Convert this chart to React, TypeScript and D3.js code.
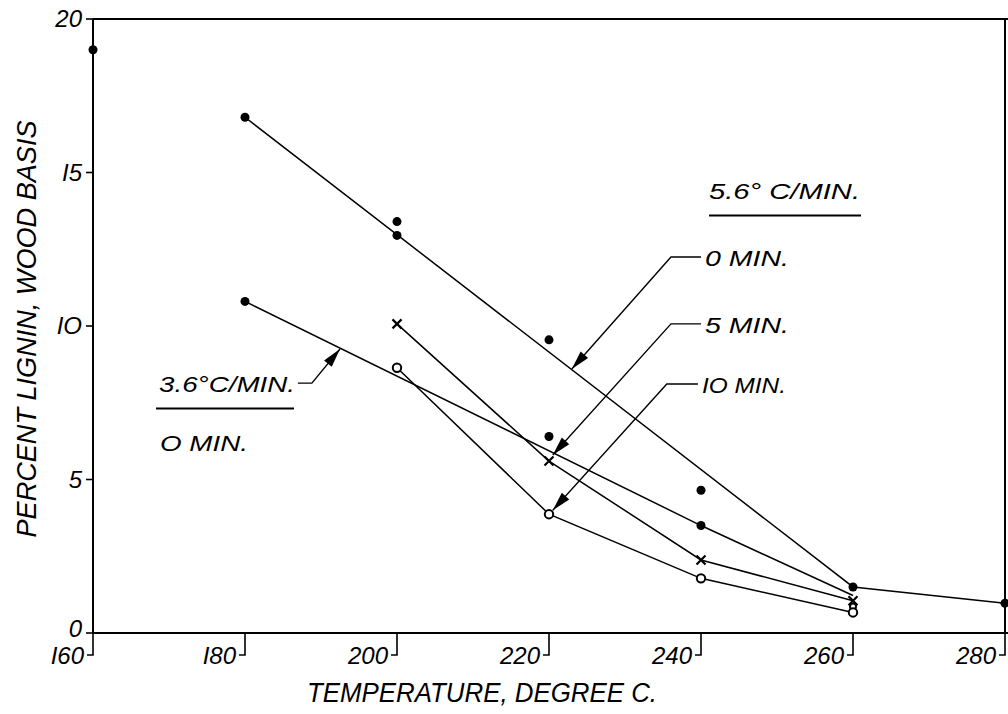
import * as d3 from 'd3';

// axis ticks
const xTicks = [160, 180, 200, 220, 240, 260, 280];
const yTicks = [0, 5, 10, 15, 20];

// filled dots, 0 min hold (both heating rates)
const dotTemps = [160, 180, 180, 200, 200, 220, 220, 240, 240, 260, 280];
const dotValues = [19.0, 16.8, 10.8, 13.4, 12.95, 9.55, 6.4, 4.65, 3.5, 1.5, 0.97];

// crosses, 5.6 C/min, 5 min hold
const crossTemps = [200, 220, 240, 260];
const crossValues = [10.07, 5.6, 2.38, 1.05];

// open circles, 5.6 C/min, 10 min hold
const ringTemps = [200, 220, 240, 260, 260];
const ringValues = [8.64, 3.87, 1.78, 0.86, 0.67];

// drawn lines
const fit56Temps = [180, 260, 280];
const fit56Values = [16.8, 1.5, 0.97];
const fit36Temps = [180, 240, 260];
const fit36Values = [10.8, 3.5, 1.22];
const min5Temps = [200, 220, 240, 260];
const min5Values = [10.07, 5.6, 2.38, 1.05];
const min10Temps = [200, 220, 240, 260];
const min10Values = [8.64, 3.87, 1.78, 0.67];

// leader labels: text, tip (temp, value), elbow (temp, value), shelf end temp
const leaderLabels = ['0 MIN.', '5 MIN.', 'IO MIN.'];
const leaderTips = [[223.0, 8.6], [220.5, 5.8], [220.5, 4.0]];
const leaderElbows = [[236.05, 12.25], [236.05, 10.07], [235.5, 8.11]];
const leaderShelf = [240.0, 240.0, 239.6];

const W = 1008;
const H = 714;
const FONT = '"Liberation Sans", Arial, sans-serif';

export default function App() {
  const x = d3.scaleLinear().domain([160, 280]).range([93, 1005]);
  const y = d3.scaleLinear().domain([0, 20]).range([633, 19]);

  const line = d3.line<[number, number]>()
    .x(d => x(d[0]))
    .y(d => y(d[1]));

  const zip = (ts: number[], vs: number[]) => ts.map((t, i) => [t, vs[i]] as [number, number]);

  const lines = [
    zip(fit56Temps, fit56Values),
    zip(fit36Temps, fit36Values),
    zip(min5Temps, min5Values),
    zip(min10Temps, min10Values),
  ];

  const arrowHead = (x0: number, y0: number, x1: number, y1: number) => {
    const dx = x1 - x0, dy = y1 - y0;
    const len = Math.hypot(dx, dy);
    const ux = dx / len, uy = dy / len;
    const L = 19, hw = 5;
    const bx = x1 - ux * L, by = y1 - uy * L;
    return `${x1},${y1} ${bx - uy * hw},${by + ux * hw} ${bx + uy * hw},${by - ux * hw}`;
  };

  // 3.6 C/min leader
  const tip36: [number, number] = [x(192.5), y(9.25)];
  const elbow36: [number, number] = [x(188.8), y(8.14)];

  return (
    <svg width={W} height={H} style={{ position: 'absolute', left: 0, top: 0, background: '#fff' }}
      fontFamily={FONT} fontStyle="italic">
      {/* frame */}
      <g stroke="#000" strokeWidth={2} fill="none">
        <line x1={x(160)} x2={W} y1={y(20)} y2={y(20)} />
        <line x1={x(160)} x2={W} y1={y(0)} y2={y(0)} />
        <line x1={x(160)} x2={x(160)} y1={y(20)} y2={y(0)} />
        <line x1={x(280)} x2={x(280)} y1={y(20)} y2={y(0)} />
      </g>

      {/* y ticks */}
      {yTicks.map(v => (
        <g key={'y' + v}>
          <line x1={x(160) - 7} x2={x(160)} y1={y(v)} y2={y(v)} stroke="#000" strokeWidth={1.6} />
          <text x={x(160) - 11} y={y(v) + (v === 0 ? 4 : 8)} textAnchor="end" fontSize={24}>
            {v === 15 ? 'I5' : v === 10 ? 'IO' : String(v)}
          </text>
        </g>
      ))}

      {/* x ticks */}
      {xTicks.map(t => (
        <g key={'x' + t}>
          <path d={`M${x(t)},${y(0)}V${y(0) + 22}H${x(t) - 6}`} stroke="#000" strokeWidth={1.6} fill="none" />
          <text x={x(t) - 9} y={664} textAnchor="end" fontSize={24}>{t === 160 ? 'I60' : t === 180 ? 'I80' : String(t)}</text>
        </g>
      ))}

      {/* axis titles */}
      <text x={307} y={702} fontSize={27} textLength={350} lengthAdjust="spacingAndGlyphs">TEMPERATURE, DEGREE C.</text>
      <text transform="translate(36,329) rotate(-90)" textAnchor="middle" fontSize={27}
        textLength={417} lengthAdjust="spacingAndGlyphs">PERCENT LIGNIN, WOOD BASIS</text>

      {/* data lines */}
      {lines.map((pts, i) => (
        <path key={'l' + i} d={line(pts) || ''} fill="none" stroke="#000" strokeWidth={1.5} />
      ))}

      {/* markers */}
      {dotTemps.map((t, i) => (
        <circle key={'d' + i} cx={x(t)} cy={y(dotValues[i])} r={4.5} fill="#000" />
      ))}
      {crossTemps.map((t, i) => {
        const cx = x(t), cy = y(crossValues[i]), s = 4.5;
        return <path key={'c' + i} d={`M${cx - s},${cy - s}L${cx + s},${cy + s}M${cx - s},${cy + s}L${cx + s},${cy - s}`}
          stroke="#000" strokeWidth={2.2} />;
      })}
      {ringTemps.map((t, i) => (
        <circle key={'r' + i} cx={x(t)} cy={y(ringValues[i])} r={i === 3 ? 3 : 4.2} fill="#fff" stroke="#000" strokeWidth={2} />
      ))}

      {/* 5.6 C/min legend block */}
      <text x={709} y={199} fontSize={22} textLength={151} lengthAdjust="spacingAndGlyphs">5.6° C/MIN.</text>
      <line x1={709} x2={861} y1={215.5} y2={215.5} stroke="#000" strokeWidth={2} />
      {leaderLabels.map((lab, i) => {
        const tx = x(leaderTips[i][0]), ty = y(leaderTips[i][1]);
        const ex = x(leaderElbows[i][0]), ey = y(leaderElbows[i][1]);
        const sx = x(leaderShelf[i]);
        return (
          <g key={'a' + i}>
            <path d={`M${sx},${ey}H${ex}L${tx},${ty}`} fill="none" stroke="#000" strokeWidth={1.4} />
            <polygon points={arrowHead(ex, ey, tx, ty)} fill="#000" />
            <text x={sx + 4} y={ey + 9} fontSize={22} textLength={84} lengthAdjust="spacingAndGlyphs">{lab}</text>
          </g>
        );
      })}

      {/* 3.6 C/min legend block */}
      <text x={159} y={392} fontSize={22} textLength={136} lengthAdjust="spacingAndGlyphs">3.6°C/MIN.</text>
      <path d={`M${elbow36[0] - 14},${elbow36[1]}H${elbow36[0]}L${tip36[0]},${tip36[1]}`} fill="none" stroke="#000" strokeWidth={1.4} />
      <polygon points={arrowHead(elbow36[0], elbow36[1], tip36[0], tip36[1])} fill="#000" />
      <line x1={156} x2={294} y1={408.5} y2={408.5} stroke="#000" strokeWidth={2} />
      <text x={160} y={451} fontSize={22} textLength={88} lengthAdjust="spacingAndGlyphs">O  MIN.</text>
    </svg>
  );
}
